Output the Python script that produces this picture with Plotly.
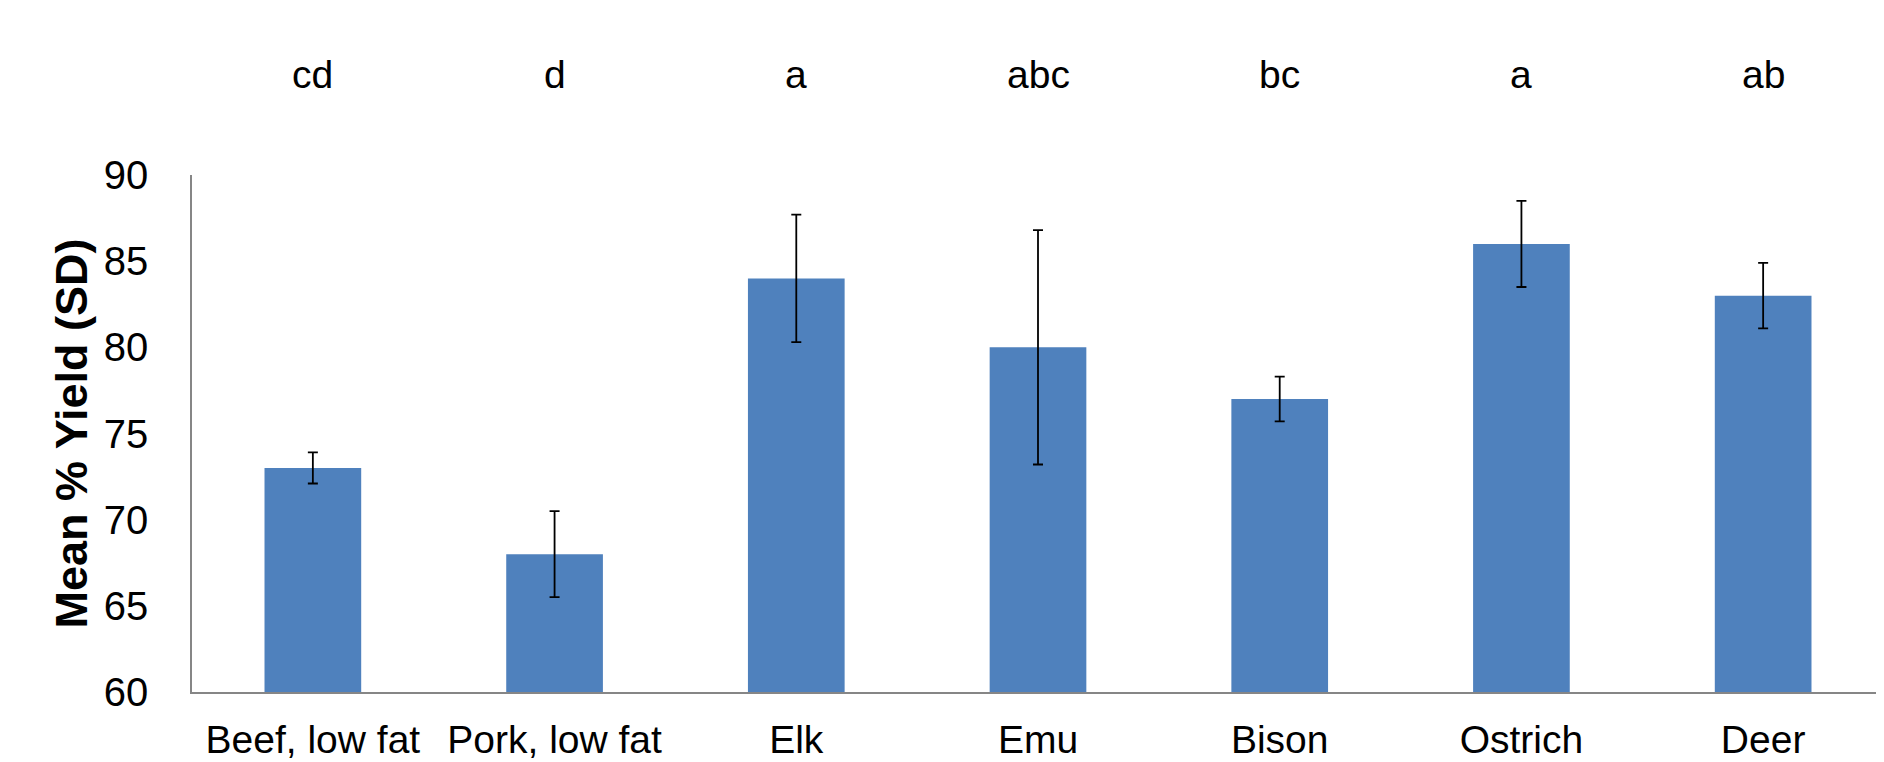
import plotly.graph_objects as go

categories = ["Beef, low fat", "Pork, low fat", "Elk", "Emu", "Bison", "Ostrich", "Deer"]
mean_yield = [73.0, 68.0, 84.0, 80.0, 77.0, 86.0, 83.0]
sd_yield = [0.9, 2.5, 3.7, 6.8, 1.3, 2.5, 1.9]
letters = ["cd", "d", "a", "abc", "bc", "a", "ab"]

fig = go.Figure()
fig.add_trace(go.Bar(
    x=categories, y=mean_yield,
    marker=dict(color="#4F81BD", line=dict(width=0)),
    error_y=dict(type="data", array=sd_yield, visible=True,
                 color="black", thickness=1.8, width=5),
    width=0.4,
))

for c, l in zip(categories, letters):
    fig.add_annotation(x=c, y=1.0, xref="x", yref="paper", yshift=101,
                       text=l, showarrow=False,
                       font=dict(family="Liberation Sans, Arial", size=39, color="black"),
                       yanchor="middle")

# page body adds an 8px offset; size the figure to the visible window
fig.update_layout(
    width=1876, height=754,
    margin=dict(l=184, r=0, t=167, b=70),
    plot_bgcolor="white", paper_bgcolor="white",
    showlegend=False,
    font=dict(family="Liberation Sans, Arial", color="black"),
)
fig.update_yaxes(
    range=[60, 90], dtick=5, tick0=60,
    showgrid=False, zeroline=False, automargin=False,
    showline=True, linecolor="#868686", linewidth=1.5,
    ticks="", ticklabelstandoff=34,
    tickfont=dict(size=40, color="black"),
    title=dict(text="<b>Mean % Yield (SD)</b>", font=dict(size=45, color="black"), standoff=2),
)
fig.update_xaxes(
    showgrid=False, zeroline=False, automargin=False,
    showline=True, linecolor="#868686", linewidth=1.5,
    ticks="", ticklabelstandoff=12,
    tickfont=dict(size=39, color="black"),
)

fig.write_html("out.html")
